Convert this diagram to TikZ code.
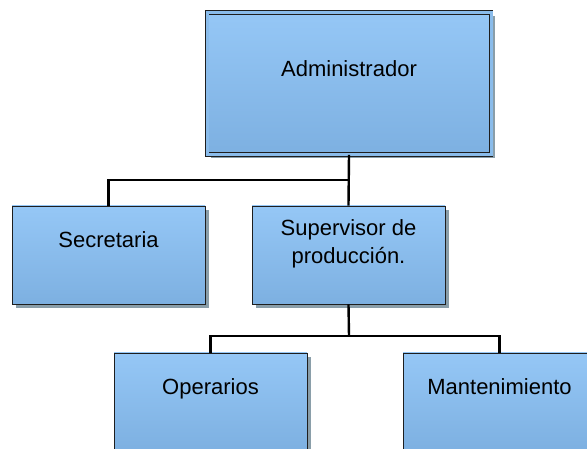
\documentclass[tikz,border=0pt]{standalone}
\usepackage{fontspec}
\setmainfont{Liberation Sans}
\usetikzlibrary{shadows}
\definecolor{boxtop}{HTML}{95C7F6}
\definecolor{boxbottom}{HTML}{7DB0E1}
\definecolor{boxmid}{HTML}{8ABCEB}
\definecolor{boxline}{HTML}{1E1E1E}
\definecolor{shadowgray}{HTML}{8A9EA9}
\begin{document}
\begin{tikzpicture}[x=1pt, y=-1pt, every node/.style={font=\fontsize{22}{28}\selectfont, align=center},
  orgbox/.style={draw=boxline, line width=0.8pt, rectangle, inner sep=0pt, top color=boxtop, bottom color=boxbottom, drop shadow={shadow xshift=4pt, shadow yshift=-4pt, fill=shadowgray, opacity=1}, minimum width=193pt, minimum height=98pt},
  headbox/.style={orgbox, minimum width=284pt, minimum height=142pt, double=boxmid, double distance=3pt},
  boxtext/.style={yshift=15pt, text height=16pt, text depth=0pt, inner sep=0pt},
  twolines/.style={yshift=11pt, inner sep=0pt},
  link/.style={draw=black, line width=2.4pt}]
\useasboundingbox (0,0) rectangle (587,449);
\node[headbox, label={[boxtext]center:Administrador}] (admin) at (349,83.5) {};
\node[orgbox, label={[boxtext]center:Secretaria}] (secretaria) at (108.5,255) {};
\node[orgbox, label={[twolines]center:{Supervisor de\\producción.}}] (supervisor) at (348.5,255) {};
\node[orgbox, label={[boxtext]center:Operarios}] (operarios) at (210.5,402) {};
\node[orgbox, label={[boxtext]center:Mantenimiento}] (mantenimiento) at (499.5,402) {};
\coordinate (split1) at (349,180);
\coordinate (split2) at (349,336);
\draw[link] (admin.south) -- (supervisor.north);
\draw[link] (split1) -| (secretaria.north);
\draw[link] (supervisor.south) -- (split2);
\draw[link] (operarios.north) |- (split2) -| (mantenimiento.north);
\end{tikzpicture}
\end{document}
